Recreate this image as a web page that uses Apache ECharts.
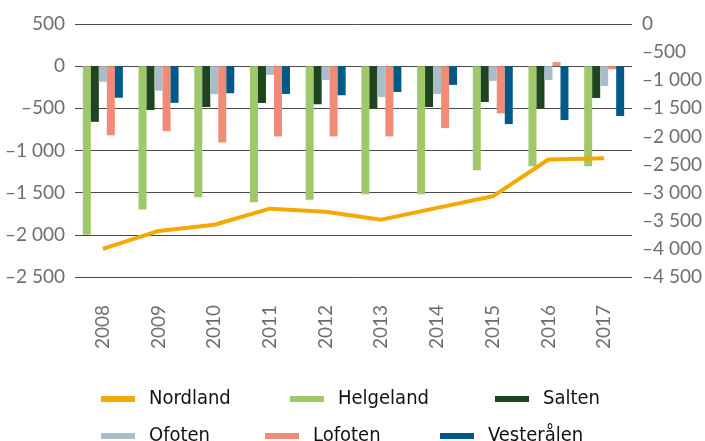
<!DOCTYPE html>
<html>
<head>
<meta charset="utf-8">
<script src="https://cdn.jsdelivr.net/npm/echarts@6/dist/echarts.min.js"></script>
<style>
  html, body { margin: 0; padding: 0; background: #fff; }
  #chart { width: 705px; height: 441px; }
</style>
</head>
<body>
<div id="chart"></div>
<script>
// år
var years = ['2008', '2009', '2010', '2011', '2012', '2013', '2014', '2015', '2016', '2017']
// Nordland (høyre akse)
var nordland = [-4000, -3680, -3570, -3285, -3340, -3480, -3270, -3065, -2410, -2390]
// regioner (venstre akse)
var helgeland = [-2000, -1700, -1555, -1615, -1583, -1520, -1520, -1234, -1187, -1187]
var salten = [-660, -520, -484, -437, -452, -504, -484, -425, -504, -377]
var ofoten = [-185, -290, -333, -103, -163, -365, -329, -175, -163, -234]
var lofoten = [-820, -770, -905, -833, -833, -833, -734, -560, 48, -36]
var vesteralen = [-375, -435, -321, -329, -345, -306, -222, -687, -639, -591]

var colors = {
  Nordland: '#f3a900',
  Helgeland: '#9fc86a',
  Salten: '#1f4420',
  Ofoten: '#a9bdc8',
  Lofoten: '#f28b76',
  'Vesterålen': '#005a87'
}

// tall med mellomrom som tusenskille og tankestrek som minus
function fmt(v) {
  var s = String(Math.abs(v)).replace(/\B(?=(\d{3})+(?!\d))/g, ' ')
  return v < 0 ? '\u2013' + s : s
}

var labelFont = { color: '#6e6e6e', fontSize: 19, fontFamily: 'Lato' }
var legendFont = { color: '#111', fontSize: 20, fontFamily: 'DejaVu Sans Condensed', padding: [0, 0, 0, 9] }

function legendItem(name, left, top) {
  return {
    data: [name],
    left: left,
    top: top,
    padding: 0,
    icon: 'rect',
    itemWidth: 34,
    itemHeight: 6,
    selectedMode: false,
    textStyle: legendFont
  }
}

function barSeries(name, data) {
  return {
    name: name,
    type: 'bar',
    yAxisIndex: 0,
    barWidth: 8,
    barGap: '0%',
    itemStyle: { color: colors[name] },
    data: data
  }
}

var chart = echarts.init(document.getElementById('chart'))
chart.setOption({
  animation: false,
  color: [colors.Nordland, colors.Helgeland, colors.Salten, colors.Ofoten, colors.Lofoten, colors['Vesterålen']],
  grid: { left: 75, right: 65, top: 24, bottom: 164 },
  legend: [
    legendItem('Nordland', 101, 389),
    legendItem('Helgeland', 290, 389),
    legendItem('Salten', 495, 389),
    legendItem('Ofoten', 101, 426),
    legendItem('Lofoten', 265, 426),
    legendItem('Vesterålen', 440, 426)
  ],
  xAxis: {
    type: 'category',
    data: years,
    axisLine: { show: false },
    axisTick: { show: false },
    axisLabel: Object.assign({ rotate: 90, margin: 28 }, labelFont)
  },
  yAxis: [
    {
      type: 'value',
      min: -2500,
      max: 500,
      interval: 500,
      axisLine: { show: false },
      axisTick: { show: false },
      axisLabel: Object.assign({ margin: 10, formatter: fmt }, labelFont),
      splitLine: { lineStyle: { color: '#4a4a4a', width: 1 } }
    },
    {
      type: 'value',
      min: -4500,
      max: 0,
      interval: 500,
      position: 'right',
      axisLine: { show: false },
      axisTick: { show: false },
      axisLabel: Object.assign({ margin: 10, formatter: fmt }, labelFont),
      splitLine: { show: false }
    }
  ],
  series: [
    {
      name: 'Nordland',
      type: 'line',
      yAxisIndex: 1,
      symbol: 'none',
      z: 5,
      lineStyle: { color: colors.Nordland, width: 4 },
      data: nordland
    },
    barSeries('Helgeland', helgeland),
    barSeries('Salten', salten),
    barSeries('Ofoten', ofoten),
    barSeries('Lofoten', lofoten),
    barSeries('Vesterålen', vesteralen)
  ]
})
</script>
</body>
</html>
